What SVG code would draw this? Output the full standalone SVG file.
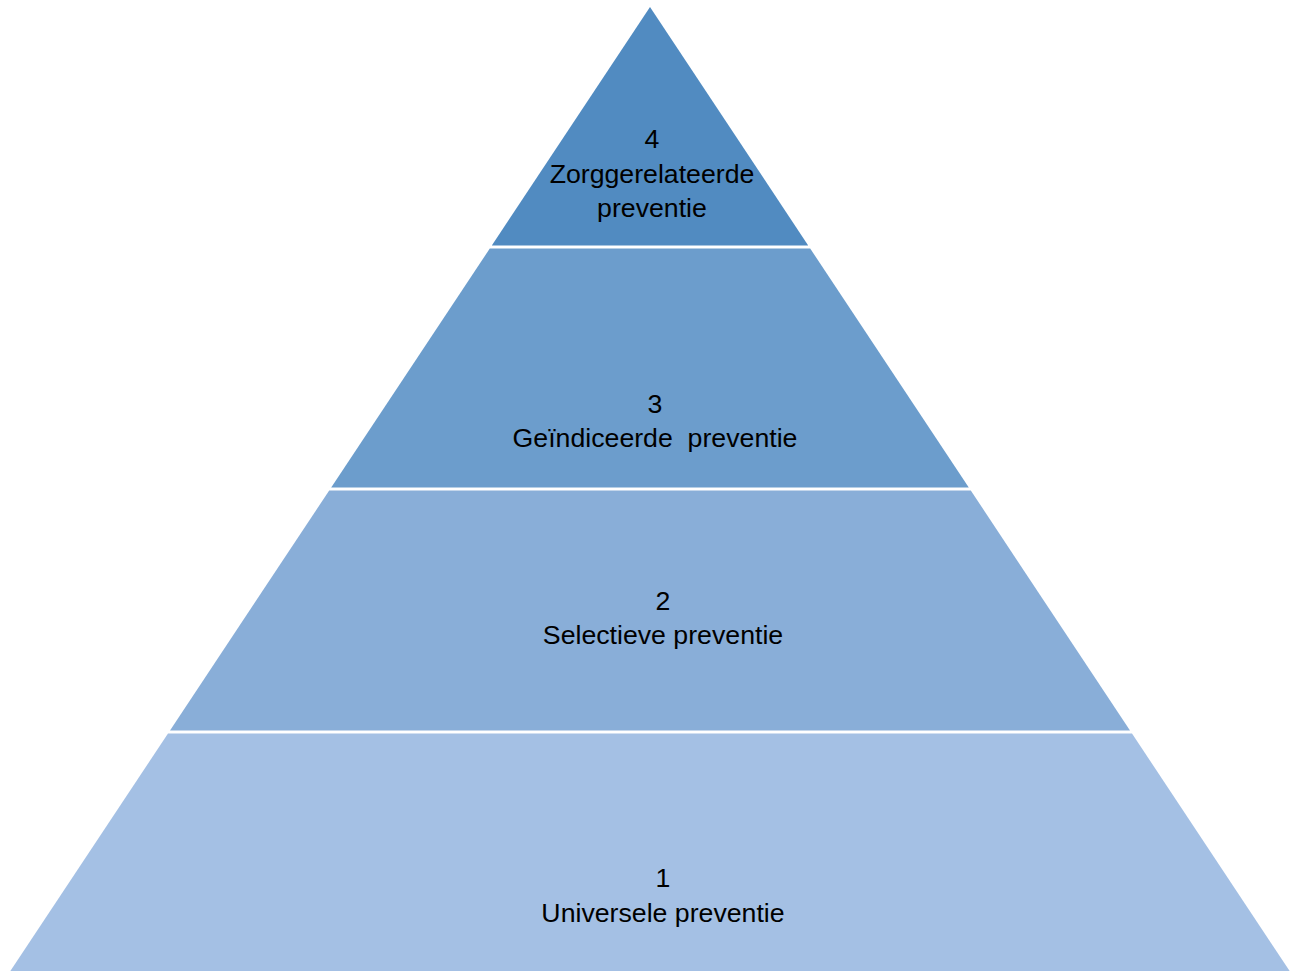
<svg xmlns="http://www.w3.org/2000/svg" width="1298" height="971" viewBox="0 0 1298 971">
<style>
  .lbl { font-family: "Liberation Sans", Arial, sans-serif; font-size: 26.7px; fill: #000; text-anchor: middle; white-space: pre; }
</style>
<rect width="1298" height="971" fill="#ffffff"/>
<g id="connectors"></g>
<g id="tier4">
  <polygon points="650,7 808.2,245.5 491.8,245.5" fill="#518bc1"/>
  <text class="lbl" x="652" y="148">4</text>
  <text class="lbl" x="652" y="183">Zorggerelateerde</text>
  <text class="lbl" x="652" y="217">preventie</text>
</g>
<g id="tier3">
  <polygon points="489.8,248.5 810.2,248.5 968.8,487.5 331.2,487.5" fill="#6c9dcc"/>
  <text class="lbl" x="655" y="413">3</text>
  <text class="lbl" x="655" y="447" xml:space="preserve">Geïndiceerde  preventie</text>
</g>
<g id="tier2">
  <polygon points="329.2,490.5 970.8,490.5 1130,730.5 170,730.5" fill="#89aed8"/>
  <text class="lbl" x="663" y="610">2</text>
  <text class="lbl" x="663" y="644">Selectieve preventie</text>
</g>
<g id="tier1">
  <polygon points="168,733.5 1132,733.5 1292.3,975 7.7,975" fill="#a4c0e4"/>
  <text class="lbl" x="663" y="887">1</text>
  <text class="lbl" x="663" y="922">Universele preventie</text>
</g>
</svg>
